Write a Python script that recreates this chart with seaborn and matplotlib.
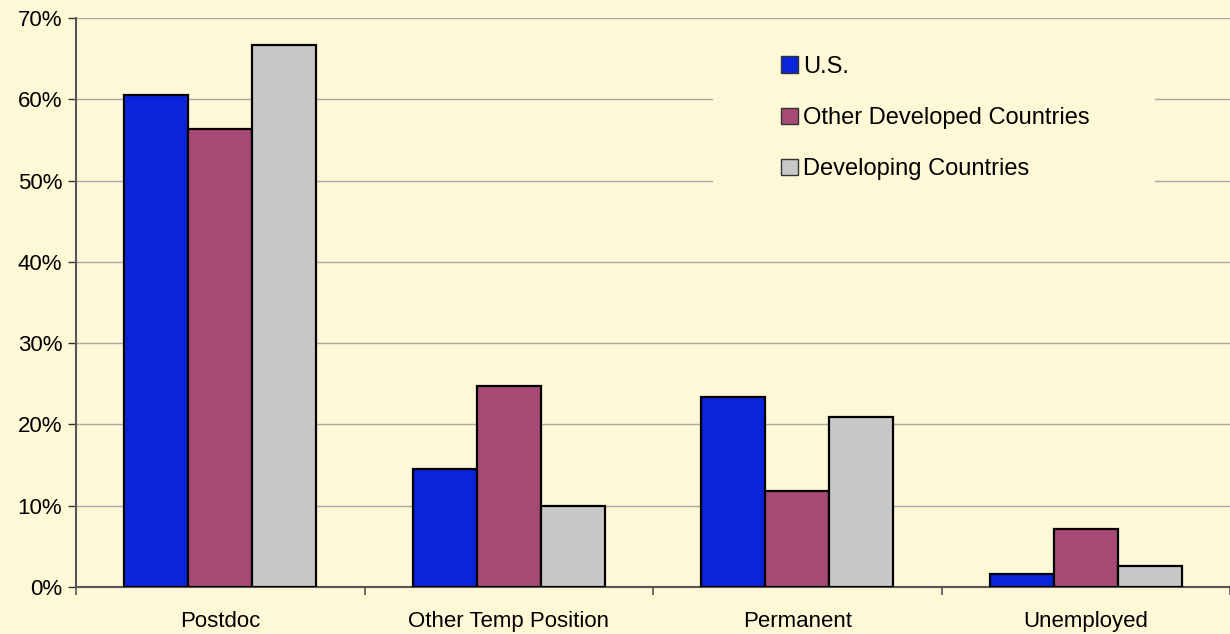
import pandas as pd
import numpy as np
import matplotlib
matplotlib.use("Agg")
import matplotlib.pyplot as plt
import seaborn as sns
from matplotlib.ticker import PercentFormatter
from matplotlib.patches import Rectangle

categories = ["Postdoc", "Other Temp Position", "Permanent", "Unemployed"]
groups = ["U.S.", "Other Developed Countries", "Developing Countries"]
us = [60.5, 14.5, 23.4, 1.6]
other_dev = [56.3, 24.7, 11.8, 7.1]
developing = [66.7, 10.0, 20.9, 2.6]
colors = ["#0A24DC", "#A84A76", "#C8C8C8"]

df = pd.DataFrame({
    "cat": categories * 3,
    "group": [g for g in groups for _ in categories],
    "val": us + other_dev + developing,
})

sns.set_style("white")
plt.rcParams["font.family"] = ["Liberation Sans", "DejaVu Sans"]
plt.rcParams["text.color"] = "black"
plt.rcParams["xtick.labelcolor"] = "black"
plt.rcParams["ytick.labelcolor"] = "black"
bg = "#FFF8D6"

fig = plt.figure(figsize=(12.3, 6.34), dpi=100, facecolor=bg)
ax = fig.add_axes([0.0618, 0.0741, 0.9382, 0.8975])
ax.set_facecolor(bg)

sns.barplot(data=df, x="cat", y="val", hue="group", order=categories,
            hue_order=groups, palette=colors, saturation=1, width=0.665,
            edgecolor="black", linewidth=1.6, ax=ax, zorder=3)

ax.set_ylim(0, 70)
ax.set_xlim(-0.5, 3.5)
ax.set_yticks(np.arange(0, 71, 10))
ax.yaxis.set_major_formatter(PercentFormatter(decimals=0))
ax.grid(axis="y", color="#A8A8A8", linewidth=1, zorder=0)
ax.set_axisbelow(True)

ax.set_xticks([-0.5, 0.5, 1.5, 2.5, 3.5], minor=True)
ax.tick_params(axis="x", which="major", length=0, pad=17, labelsize=16, labelcolor="black")
ax.tick_params(axis="x", which="minor", length=6, direction="out", color="#555555", width=1.2)
ax.tick_params(axis="y", length=6, direction="out", color="#333333", width=1, labelsize=16,
               pad=4, labelcolor="black")
ax.yaxis.set_ticks_position("left")
ax.xaxis.set_ticks_position("bottom")

for s in ["top", "right"]:
    ax.spines[s].set_visible(False)
for s in ["left", "bottom"]:
    ax.spines[s].set_color("#555555")
    ax.spines[s].set_linewidth(1.5)

ax.set_xlabel("")
ax.set_ylabel("")

# legend background box hides the grid behind it
ax.add_patch(Rectangle((0.552, 0.680), 0.383, 0.299, transform=ax.transAxes,
                       facecolor=bg, edgecolor="none", zorder=1))

leg = ax.legend(loc="upper left", bbox_to_anchor=(0.611, 0.933), frameon=False,
                fontsize=17, handlelength=0.72, handleheight=0.72, handletextpad=0.2,
                labelspacing=1.23, borderpad=0, borderaxespad=0)
for h in leg.legend_handles:
    h.set_linewidth(1)
    h.set_edgecolor("#333333")
for t in leg.get_texts():
    t.set_color("black")

fig.savefig("out.png", dpi=100, facecolor=bg)
